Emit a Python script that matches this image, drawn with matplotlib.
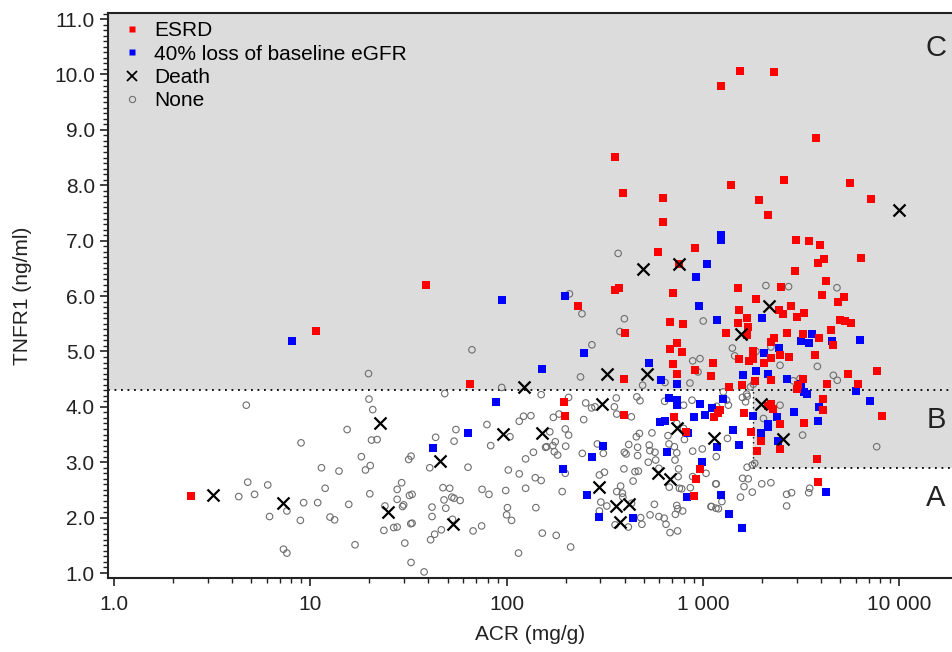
import numpy as np
import matplotlib
matplotlib.use('Agg')
import matplotlib.pyplot as plt
from matplotlib.lines import Line2D
from matplotlib.ticker import FixedLocator, FuncFormatter, MultipleLocator, LogLocator, NullFormatter

plt.rcParams['font.family'] = ['Liberation Sans', 'DejaVu Sans']

# (ACR mg/g, TNFR1 ng/ml)
esrd = [
    (10.7, 5.37), (2.47, 2.39), (39, 6.20), (65, 4.42),
    (358, 8.51), (391, 7.86), (629, 7.77), (629, 7.34), (1386, 8.01), (2589, 8.09),
    (1923, 7.73), (2153, 7.47), (5640, 8.04), (7180, 7.75), (1237, 9.80), (1545, 10.06),
    (2295, 10.04), (3755, 8.86), (2966, 7.02), (3480, 7.00), (3937, 6.92), (4140, 6.67),
    (3870, 6.59), (6390, 6.68), (2937, 6.45), (4226, 6.27), (914, 6.87), (588, 6.80),
    (759, 6.58), (356, 6.11), (375, 6.15), (707, 6.05), (230, 5.82), (680, 5.54),
    (789, 5.49), (401, 5.34), (740, 5.15), (682, 5.05), (786, 4.99), (1130, 4.79),
    (702, 4.77), (912, 4.66), (740, 4.59), (1094, 4.56), (398, 4.50), (197, 4.09),
    (198, 3.83), (398, 3.85), (715, 3.82), (1143, 3.82), (819, 3.55), (967, 2.87),
    (922, 2.69), (901, 2.39), (1514, 6.14), (2500, 6.16), (4044, 6.02), (5240, 5.99),
    (4860, 5.90), (1865, 5.95), (2810, 5.82), (2432, 5.75), (2548, 5.67), (3290, 5.70),
    (3030, 5.62), (1528, 5.75), (1671, 5.60), (1514, 5.52), (1702, 5.45), (1312, 5.33),
    (1680, 5.30), (4990, 5.57), (5300, 5.55), (5660, 5.52), (4520, 5.38), (2670, 5.33),
    (3220, 5.31), (2310, 5.25), (2220, 5.17), (3920, 5.24), (4620, 5.12), (1807, 5.00),
    (2472, 4.93), (2748, 4.90), (2220, 4.89), (1528, 4.86), (1722, 4.83), (1791, 4.86),
    (2050, 4.80), (3720, 4.93), (2220, 4.48), (1837, 4.47), (3220, 4.50), (3050, 4.40),
    (5510, 4.60), (7710, 4.65), (4275, 4.42), (6170, 4.42), (1590, 4.39), (1365, 4.36),
    (3030, 4.33), (4110, 4.15), (8200, 3.83), (1222, 3.94), (1200, 3.88), (2220, 4.06),
    (2263, 3.96), (2155, 4.01), (1620, 3.88), (4090, 3.95), (2472, 3.69), (3270, 3.70),
    (1762, 3.55), (1977, 3.39), (2472, 3.24), (1880, 3.21), (3810, 3.06), (3850, 2.65),
]

egfr_loss = [
    (8.1, 5.19), (95, 5.93), (151, 4.69), (88.6, 4.08), (63.6, 3.53), (42.3, 3.26),
    (1237, 7.10), (1237, 7.01), (1045, 6.58), (919, 6.35), (198, 6.00), (951, 5.82),
    (1175, 5.57), (249, 4.97), (529, 4.79), (611, 4.48), (740, 4.42), (674, 4.16),
    (740, 4.13), (740, 4.04), (967, 4.05), (1107, 3.98), (897, 3.82), (1025, 3.85),
    (309, 3.29), (273, 3.09), (653, 3.18), (608, 3.73), (643, 3.75), (843, 3.52),
    (1175, 3.27), (993, 3.01), (826, 2.38), (442, 2.00), (297, 2.02), (256, 2.41),
    (193, 2.88), (2006, 5.60), (3600, 5.31), (3160, 5.19), (3460, 5.16), (4570, 5.19),
    (6300, 5.21), (2432, 5.07), (2046, 4.97), (1865, 4.64), (1593, 4.57), (2138, 4.59),
    (2670, 4.51), (3165, 4.42), (3165, 4.32), (3270, 4.27), (3405, 4.23), (6000, 4.28),
    (7100, 4.11), (1271, 4.15), (1807, 3.84), (2397, 3.82), (2920, 3.91), (3920, 4.00),
    (2150, 3.69), (2150, 3.63), (3870, 3.75), (1421, 3.59), (1968, 3.52), (2420, 3.39),
    (1520, 3.31), (1236, 2.40), (1355, 2.06), (1578, 1.82), (4240, 2.47),
]

death = [
    (3.2, 2.41), (7.3, 2.26), (22.7, 3.70), (25, 2.10), (45.8, 3.02), (53.3, 1.89),
    (123, 4.35), (96.2, 3.51), (152, 3.52), (493, 6.48), (759, 6.58), (324, 4.59),
    (517, 4.60), (307, 4.06), (736, 3.61), (1138, 3.44), (593, 2.81), (680, 2.70),
    (420, 2.24), (360, 2.21), (378, 1.93), (297, 2.55), (10000, 7.55), (2163, 5.82),
    (1564, 5.31), (1977, 4.06), (2548, 3.42),
]

none = [
    (19.8, 4.60), (4.72, 4.03), (19.9, 4.14), (20.8, 3.95), (15.4, 3.59), (8.97, 3.35),
    (20.5, 3.40), (21.9, 3.41), (18.2, 3.10), (20.2, 2.94), (19.1, 2.86), (11.4, 2.90),
    (14.0, 2.84), (4.8, 2.64), (6.07, 2.59), (4.32, 2.38), (5.2, 2.42), (11.9, 2.53),
    (20.1, 2.43), (9.25, 2.27), (10.9, 2.27), (15.7, 2.24), (7.6, 2.12), (6.2, 2.02),
    (8.9, 1.95), (12.6, 2.01), (13.3, 1.96), (24, 2.21), (23.7, 1.77), (26.6, 1.82),
    (27.7, 1.83), (16.9, 1.51), (7.3, 1.43), (7.6, 1.36), (27.7, 2.51), (27.7, 2.33),
    (29.2, 2.63), (66.6, 5.03), (48.4, 4.24), (55.2, 3.59), (43.5, 3.45), (54, 3.38),
    (40.6, 2.90), (63.6, 2.91), (31.7, 3.05), (32.6, 3.11), (32, 2.40), (33, 2.42),
    (47.4, 2.54), (51.3, 2.53), (48, 2.32), (52.6, 2.37), (54, 2.35), (58, 2.31),
    (41.7, 2.19), (49, 2.17), (41.7, 2.02), (29.5, 2.20), (29.9, 2.23), (32.5, 1.89),
    (33, 1.90), (30.3, 1.54), (32.6, 1.19), (38, 1.02), (41, 1.60), (43, 1.70),
    (46.5, 1.78), (67.5, 1.76), (53, 1.97), (94.4, 4.35), (150, 4.22), (116, 3.74),
    (122, 3.83), (133, 3.84), (79.4, 3.68), (104, 3.46), (83, 3.30), (158, 3.27),
    (137, 3.18), (125, 3.06), (102, 2.86), (116, 2.79), (140, 2.72), (150, 2.67),
    (125, 2.53), (99, 2.49), (75, 2.51), (81.3, 2.42), (74.6, 1.85), (101, 2.18),
    (100, 2.05), (106, 1.95), (141, 2.18), (152, 1.72), (115, 1.36), (209, 6.04),
    (242, 5.68), (398, 5.59), (1004, 5.55), (378, 5.36), (272, 5.12), (887, 4.83),
    (967, 4.87), (944, 4.63), (238, 4.54), (493, 4.39), (641, 4.44), (859, 4.43),
    (207, 4.17), (173, 3.81), (185, 3.87), (253, 4.07), (271, 3.98), (282, 4.00),
    (362, 4.16), (354, 4.00), (364, 3.87), (432, 3.82), (461, 4.18), (478, 4.11),
    (638, 4.10), (797, 4.03), (880, 4.12), (370, 6.77), (247, 3.77), (166, 3.55),
    (207, 3.49), (199, 3.60), (177, 3.37), (160, 3.28), (172, 3.30), (175, 3.19),
    (182, 3.13), (200, 3.29), (290, 3.33), (243, 3.16), (311, 3.16), (398, 3.18),
    (406, 3.15), (419, 3.32), (465, 3.27), (465, 3.12), (475, 3.52), (458, 3.46),
    (550, 3.53), (533, 3.31), (537, 3.21), (570, 3.18), (527, 3.00), (575, 3.04),
    (597, 2.89), (721, 3.04), (736, 3.17), (716, 3.28), (672, 3.33), (664, 3.48),
    (752, 2.88), (748, 2.74), (674, 2.55), (759, 2.53), (780, 2.52), (863, 2.54),
    (805, 3.41), (736, 3.70), (797, 3.61), (887, 3.20), (993, 3.24), (1170, 3.10),
    (1038, 2.80), (887, 2.74), (1162, 2.61), (1099, 2.20), (1166, 2.17), (736, 2.22),
    (745, 2.16), (789, 2.12), (724, 2.06), (680, 1.73), (743, 1.76), (566, 2.24),
    (538, 2.05), (597, 2.02), (635, 1.99), (649, 1.88), (482, 2.00), (489, 1.88),
    (324, 2.21), (357, 1.87), (417, 1.83), (297, 2.12), (302, 2.28), (364, 2.47),
    (381, 2.57), (389, 2.44), (391, 2.37), (433, 2.26), (297, 2.77), (315, 2.82),
    (396, 2.88), (451, 2.83), (469, 2.84), (441, 2.66), (192, 2.47), (199, 2.80),
    (179, 1.68), (212, 1.47), (2094, 6.19), (2733, 6.17), (4820, 6.15), (1413, 5.06),
    (2220, 5.08), (1452, 4.92), (1865, 5.00), (2472, 4.75), (3830, 4.73), (2885, 4.47),
    (3125, 4.51), (4620, 4.57), (4840, 4.48), (1747, 4.36), (1807, 4.41), (1271, 4.27),
    (1321, 4.12), (1590, 4.17), (1680, 4.19), (1650, 4.09), (1670, 4.23), (1175, 4.01),
    (1349, 4.03), (2472, 4.03), (2035, 3.79), (3220, 3.49), (1334, 3.43), (7680, 3.28),
    (1837, 2.98), (1785, 2.95), (1680, 2.91), (1593, 2.71), (1702, 2.70), (1620, 2.56),
    (1995, 2.61), (2220, 2.63), (1785, 2.46), (1170, 2.61), (1250, 2.29), (1200, 2.16),
    (1554, 2.37), (1107, 2.20), (2670, 2.42), (2830, 2.45), (2670, 2.21), (3500, 2.53),
    (3460, 2.45),
]

# risk zone cut-offs
tnfr1_high = 4.3
tnfr1_low = 2.9
acr_cut = 1800

x_ticks = [1, 10, 100, 1000, 10000]
x_labels = ['1.0', '10', '100', '1 000', '10 000']

gray = '#dcdcdc'

fig = plt.figure(figsize=(9.53, 6.52), dpi=100)
ax = fig.add_axes([108/953, 74/652, 845/953, 565/652])
ax.set_xscale('log')
ax.set_xlim(0.932, 18800)
ax.set_ylim(0.91, 11.11)

# shaded zones
ax.axhspan(tnfr1_high, 12, color=gray, lw=0, zorder=0)
ax.fill_between([acr_cut, 30000], tnfr1_low, tnfr1_high, color=gray, lw=0, zorder=0)
dots = (0, (1, 2.6))
ax.axhline(tnfr1_high, color='black', ls=dots, lw=1.3, zorder=1)
ax.plot([acr_cut, 30000], [tnfr1_low, tnfr1_low], color='black', ls=dots, lw=1.3, zorder=1)
ax.plot([acr_cut, acr_cut], [tnfr1_low, tnfr1_high], color='black', ls=dots, lw=1.0, zorder=1)

n = np.array(none).T
ax.scatter(n[0], n[1], s=22, marker='o', facecolors='none', edgecolors='#6e6e6e', linewidths=0.8, zorder=2)
e = np.array(egfr_loss).T
ax.scatter(e[0], e[1], s=26, marker='s', color='#0000ff', linewidths=0, zorder=3)
r = np.array(esrd).T
ax.scatter(r[0], r[1], s=26, marker='s', color='#ff0000', linewidths=0, zorder=3)
d = np.array(death).T
ax.scatter(d[0], d[1], s=75, marker='x', color='black', linewidths=1.6, zorder=4)

# zone letters
for letter, yv in [('C', 10.48), ('B', 3.76), ('A', 2.35)]:
    ax.text(15400, yv, letter, fontsize=21, color='#222222', ha='center', va='center')

ax.xaxis.set_major_locator(FixedLocator(x_ticks))
ax.xaxis.set_major_formatter(FuncFormatter(lambda v, p: x_labels[x_ticks.index(round(v))] if round(v) in x_ticks else ''))
ax.xaxis.set_minor_locator(LogLocator(base=10, subs=np.arange(2, 10)))
ax.xaxis.set_minor_formatter(NullFormatter())
ax.yaxis.set_major_locator(MultipleLocator(1))
ax.yaxis.set_major_formatter(FuncFormatter(lambda v, p: '%.1f' % v))
ax.yaxis.set_minor_locator(MultipleLocator(0.1))

ax.tick_params(which='major', direction='out', length=6, width=1.2, labelsize=15, colors='#222222')
ax.tick_params(which='minor', direction='out', length=3.5, width=1.0, colors='#222222')
ax.tick_params(axis='x', which='major', pad=6)

for side in ['left', 'bottom', 'top']:
    ax.spines[side].set_linewidth(1.5)
    ax.spines[side].set_color('#222222')
ax.spines['right'].set_visible(False)

ax.set_xlabel('ACR (mg/g)', fontsize=15, color='#222222', labelpad=8)
ax.set_ylabel('TNFR1 (ng/ml)', fontsize=15, color='#222222', labelpad=16)

handles = [
    Line2D([], [], ls='none', marker='s', ms=4.5, mfc='#ff0000', mec='none'),
    Line2D([], [], ls='none', marker='s', ms=4.5, mfc='#0000ff', mec='none'),
    Line2D([], [], ls='none', marker='x', ms=7, mec='black', mew=1.3),
    Line2D([], [], ls='none', marker='o', ms=4.5, mfc='none', mec='#6e6e6e', mew=0.8),
]
ax.legend(handles, ['ESRD', '40% loss of baseline eGFR', 'Death', 'None'],
          loc='upper left', bbox_to_anchor=(0.016, 0.985), frameon=False,
          fontsize=15, handlelength=1.0, handletextpad=0.55, labelspacing=0.2,
          borderaxespad=0, borderpad=0)

fig.savefig('out.png', dpi=100)
